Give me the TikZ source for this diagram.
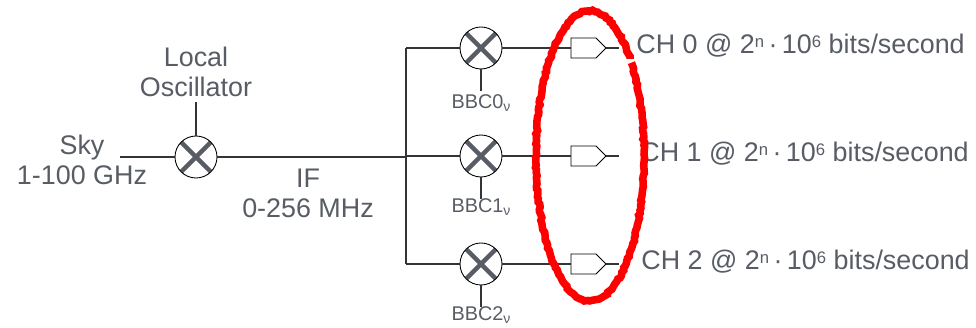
\documentclass[tikz,border=0pt]{standalone}
\usepackage{fontspec}
\setmainfont{Liberation Sans}
\usetikzlibrary{shapes.symbols,decorations.pathmorphing}
\definecolor{labelgray}{RGB}{88,92,100}
\definecolor{wiregray}{RGB}{50,52,56}
\newcommand{\supsmall}[1]{\raisebox{0.42ex}{\fontsize{9.5}{10}\selectfont #1}}
\newcommand{\subsmall}[1]{\raisebox{-0.25ex}{\fontsize{8}{9}\selectfont #1}}
\tikzset{
  mixer/.style={circle,draw=black,line width=0.5pt,fill=white,minimum size=0.84cm,inner sep=0pt,
    path picture={\draw[labelgray,line width=2.6pt]
      (path picture bounding box.south west)--(path picture bounding box.north east)
      (path picture bounding box.north west)--(path picture bounding box.south east);}},
  sampler/.style={signal,signal to=east,signal pointer angle=90,draw=black,line width=0.5pt,fill=white,
    minimum width=0.7cm,minimum height=0.4cm,inner sep=0pt,outer sep=0pt},
  wire/.style={wiregray,line width=0.6pt},
  biglabel/.style={labelgray,font=\fontsize{15.3}{17}\selectfont,align=center},
  smalllabel/.style={labelgray,font=\fontsize{11.3}{13}\selectfont},
  redring/.style={red,line width=4.3pt,decorate,decoration={random steps,segment length=1.5pt,amplitude=0.45pt}}
}
\begin{document}
\begin{tikzpicture}
  \useasboundingbox (0,0) rectangle (19.52,6.56);
  % front end
  \node[mixer] (lomix) at (3.92,3.42) {};
  \coordinate (skyin) at (2.40,3.42);
  \coordinate (loin) at (3.92,4.52);
  \coordinate (split) at (8.12,3.42);
  \node[biglabel] (sky) at (1.64,3.37) {Sky\\1-100 GHz};
  \node[biglabel] (lo) at (3.92,5.12) {Local\\Oscillator};
  \node[biglabel] (if) at (6.16,2.69) {IF\\0-256 MHz};
  \draw[wire] (skyin)--(lomix);
  \draw[wire] (loin)--(lomix);
  \draw[wire] (lomix)--(split);
  % one row per channel
  \foreach \n/\y/\tx/\ty/\ly in {0/5.60/12.72/5.65/4.50, 1/3.44/12.80/3.49/2.42, 2/1.28/12.82/1.32/0.26}{
    \node[mixer] (mix\n) at (9.62,\y) {};
    \node[sampler,anchor=west] (samp\n) at (11.42,\y) {};
    \coordinate (out\n) at (12.38,\y);
    \coordinate (lo\n) at (9.62,\y-0.86);
    \coordinate (bus\n) at (8.12,\y);
    \node[smalllabel] (bbc\n) at (9.62,\ly) {BBC\n\subsmall{ν}};
    \node[biglabel,anchor=west,inner sep=0pt] (ch\n) at (\tx,\ty) {CH \n\ @ 2\supsmall{n}\,·\,10\supsmall{6} bits/second};
    \draw[wire] (bus\n)--(mix\n);
    \draw[wire] (mix\n)--(samp\n.west);
    \draw[wire] (samp\n.east)--(out\n);
    \draw[wire] (mix\n)--(lo\n);
  }
  \draw[wire,line width=0.9pt] (bus0)--(bus2);
  % red hand-drawn ring
  \draw[redring] (11.80,3.44) ++(42:1.08 and 2.90) arc[start angle=42,end angle=400,x radius=1.08,y radius=2.90];
\end{tikzpicture}
\end{document}
